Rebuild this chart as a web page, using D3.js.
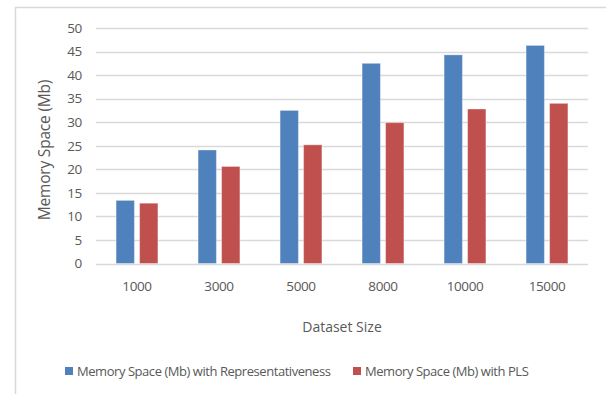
<!DOCTYPE html>
<html><head><meta charset="utf-8">
<script src="https://cdn.jsdelivr.net/npm/d3@7"></script>
<style>body{margin:0;background:#fff}svg{display:block}</style>
</head><body><svg id="c" width="606" height="394"></svg>
<script>
const categories = ["1000","3000","5000","8000","10000","15000"];
const seriesNames = ["Memory Space (Mb) with Representativeness","Memory Space (Mb) with PLS"];
const repValues = [13.4, 24.1, 32.5, 42.5, 44.3, 46.3];
const plsValues = [12.8, 20.6, 25.2, 29.9, 32.8, 34.0];
const yTicks = [0,5,10,15,20,25,30,35,40,45,50];
const colors = ["#4f81bd","#c0504d"];

const svg = d3.select("#c");
const font = "'Open Sans', 'DejaVu Sans', sans-serif";
const txt = "#595959";
const L = 96, R = 588, T = 28, B = 263.5;

svg.append("rect").attr("x",15.5).attr("y",7.5).attr("width",700).attr("height",500)
  .attr("fill","#fff").attr("stroke","#d9d9d9").attr("stroke-width",1.5);

const y = d3.scaleLinear().domain([0,50]).range([B,T]);
const x0 = d3.scaleBand().domain(categories).range([L,R]).paddingInner(0.49).paddingOuter(0.245);
const x1 = d3.scaleBand().domain([0,1]).range([0,x0.bandwidth()]).paddingInner(0.22);

svg.append("g").selectAll("line").data(yTicks).join("line")
  .attr("x1",L).attr("x2",R).attr("y1",d=>Math.round(y(d))+0.5).attr("y2",d=>Math.round(y(d))+0.5)
  .attr("stroke","#d9d9d9").attr("stroke-width",1.3);

const yAxis = d3.axisLeft(y).tickValues(yTicks).tickSize(0).tickPadding(0);
const ya = svg.append("g").attr("transform",`translate(82,0)`).call(yAxis);
ya.select(".domain").remove();
ya.selectAll("text").attr("font-family",font).attr("font-size",13.5).attr("fill",txt).attr("letter-spacing",-0.3);

const xAxis = d3.axisBottom(x0).tickSize(0).tickPadding(0);
const xa = svg.append("g").attr("transform",`translate(0,${B+17.5})`).call(xAxis);
xa.select(".domain").remove();
xa.selectAll("text").attr("font-family",font).attr("font-size",13.5).attr("fill",txt).attr("letter-spacing",-0.4);

const series = [repValues, plsValues];
series.forEach((vals,si)=>{
  svg.append("g").selectAll("rect").data(vals).join("rect")
    .attr("x",(d,i)=>x0(categories[i])+x1(si))
    .attr("width",x1.bandwidth())
    .attr("y",d=>y(d)).attr("height",d=>B-y(d))
    .attr("fill",colors[si]).attr("stroke","#fff").attr("stroke-opacity",0.35).attr("stroke-width",1);
});

svg.append("text").attr("transform",`translate(50,150) rotate(-90)`)
  .attr("text-anchor","middle").attr("font-family",font).attr("font-size",15.5).attr("fill",txt)
  .attr("letter-spacing",-0.2).text("Memory Space (Mb)");
svg.append("text").attr("x",342).attr("y",332).attr("text-anchor","middle")
  .attr("font-family",font).attr("font-size",14).attr("fill",txt).text("Dataset Size");

const legX = [65, 353];
seriesNames.forEach((n,i)=>{
  svg.append("rect").attr("x",legX[i]).attr("y",367).attr("width",8).attr("height",8).attr("fill",colors[i]);
  svg.append("text").attr("x",legX[i]+12).attr("y",376).attr("font-family",font).attr("font-size",13)
    .attr("fill",txt).attr("letter-spacing",-0.45).text(n);
});
</script></body></html>
